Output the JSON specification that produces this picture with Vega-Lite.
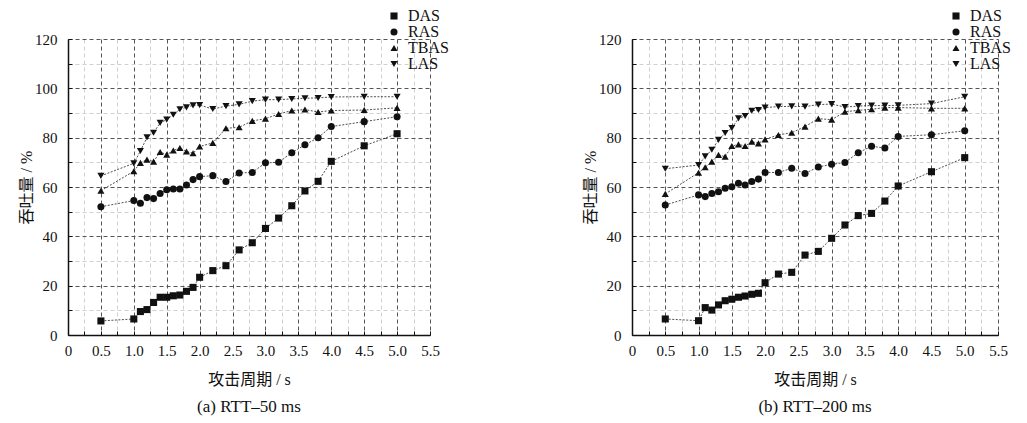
{
  "$schema": "https://vega.github.io/schema/vega-lite/v6.json",
  "background": "white",
  "padding": {"left": 18, "top": 8, "right": 2, "bottom": 2},
  "config": {
    "view": {"stroke": null},
    "font": "Liberation Serif",
    "axis": {
      "labelFont": "Liberation Serif",
      "labelFontSize": 15,
      "labelColor": "#111",
      "titleFont": "Liberation Serif, Noto Sans CJK SC",
      "titleFontSize": 16,
      "titleFontWeight": "normal",
      "titleColor": "#111",
      "domainColor": "#111",
      "domainWidth": 1.5,
      "tickColor": "#111",
      "tickSize": -4,
      "gridDash": [4, 3],
      "gridWidth": 1
    },
    "legend": {
      "labelFont": "Liberation Serif",
      "labelFontSize": 16,
      "labelColor": "#111",
      "symbolFillColor": "#111",
      "symbolStrokeColor": "#111",
      "symbolSize": 50,
      "rowPadding": -4,
      "padding": 0,
      "labelOffset": 6
    }
  },
  "data": {"values": [
    {"p":"a","s":"DAS","x":0.5,"y":5.7},{"p":"a","s":"DAS","x":1.0,"y":6.5},{"p":"a","s":"DAS","x":1.1,"y":9.5},{"p":"a","s":"DAS","x":1.2,"y":10.3},{"p":"a","s":"DAS","x":1.3,"y":13.2},{"p":"a","s":"DAS","x":1.4,"y":15.3},{"p":"a","s":"DAS","x":1.5,"y":15.3},{"p":"a","s":"DAS","x":1.6,"y":15.9},{"p":"a","s":"DAS","x":1.7,"y":16.2},{"p":"a","s":"DAS","x":1.8,"y":17.7},{"p":"a","s":"DAS","x":1.9,"y":19.3},{"p":"a","s":"DAS","x":2.0,"y":23.4},{"p":"a","s":"DAS","x":2.2,"y":26.1},{"p":"a","s":"DAS","x":2.4,"y":28.1},{"p":"a","s":"DAS","x":2.6,"y":34.5},{"p":"a","s":"DAS","x":2.8,"y":37.4},{"p":"a","s":"DAS","x":3.0,"y":43.2},{"p":"a","s":"DAS","x":3.2,"y":47.4},{"p":"a","s":"DAS","x":3.4,"y":52.4},{"p":"a","s":"DAS","x":3.6,"y":58.4},{"p":"a","s":"DAS","x":3.8,"y":62.3},{"p":"a","s":"DAS","x":4.0,"y":70.4},{"p":"a","s":"DAS","x":4.5,"y":76.7},{"p":"a","s":"DAS","x":5.0,"y":81.6},
    {"p":"a","s":"RAS","x":0.5,"y":52.0},{"p":"a","s":"RAS","x":1.0,"y":54.5},{"p":"a","s":"RAS","x":1.1,"y":53.4},{"p":"a","s":"RAS","x":1.2,"y":55.7},{"p":"a","s":"RAS","x":1.3,"y":55.3},{"p":"a","s":"RAS","x":1.4,"y":57.4},{"p":"a","s":"RAS","x":1.5,"y":58.9},{"p":"a","s":"RAS","x":1.6,"y":59.2},{"p":"a","s":"RAS","x":1.7,"y":59.2},{"p":"a","s":"RAS","x":1.8,"y":60.8},{"p":"a","s":"RAS","x":1.9,"y":63.0},{"p":"a","s":"RAS","x":2.0,"y":64.2},{"p":"a","s":"RAS","x":2.2,"y":64.6},{"p":"a","s":"RAS","x":2.4,"y":62.2},{"p":"a","s":"RAS","x":2.6,"y":65.7},{"p":"a","s":"RAS","x":2.8,"y":65.9},{"p":"a","s":"RAS","x":3.0,"y":69.8},{"p":"a","s":"RAS","x":3.2,"y":70.0},{"p":"a","s":"RAS","x":3.4,"y":73.9},{"p":"a","s":"RAS","x":3.6,"y":77.1},{"p":"a","s":"RAS","x":3.8,"y":80.0},{"p":"a","s":"RAS","x":4.0,"y":84.5},{"p":"a","s":"RAS","x":4.5,"y":86.5},{"p":"a","s":"RAS","x":5.0,"y":88.5},
    {"p":"a","s":"TBAS","x":0.5,"y":58.5},{"p":"a","s":"TBAS","x":1.0,"y":66.4},{"p":"a","s":"TBAS","x":1.1,"y":69.8},{"p":"a","s":"TBAS","x":1.2,"y":71.1},{"p":"a","s":"TBAS","x":1.3,"y":70.3},{"p":"a","s":"TBAS","x":1.4,"y":74.2},{"p":"a","s":"TBAS","x":1.5,"y":73.1},{"p":"a","s":"TBAS","x":1.6,"y":74.8},{"p":"a","s":"TBAS","x":1.7,"y":75.8},{"p":"a","s":"TBAS","x":1.8,"y":74.4},{"p":"a","s":"TBAS","x":1.9,"y":73.7},{"p":"a","s":"TBAS","x":2.0,"y":76.4},{"p":"a","s":"TBAS","x":2.2,"y":77.9},{"p":"a","s":"TBAS","x":2.4,"y":83.8},{"p":"a","s":"TBAS","x":2.6,"y":84.2},{"p":"a","s":"TBAS","x":2.8,"y":86.8},{"p":"a","s":"TBAS","x":3.0,"y":87.7},{"p":"a","s":"TBAS","x":3.2,"y":89.6},{"p":"a","s":"TBAS","x":3.4,"y":91.0},{"p":"a","s":"TBAS","x":3.6,"y":91.4},{"p":"a","s":"TBAS","x":3.8,"y":90.4},{"p":"a","s":"TBAS","x":4.0,"y":91.0},{"p":"a","s":"TBAS","x":4.5,"y":91.2},{"p":"a","s":"TBAS","x":5.0,"y":92.1},
    {"p":"a","s":"LAS","x":0.5,"y":64.5},{"p":"a","s":"LAS","x":1.0,"y":69.6},{"p":"a","s":"LAS","x":1.1,"y":74.6},{"p":"a","s":"LAS","x":1.2,"y":80.1},{"p":"a","s":"LAS","x":1.3,"y":82.0},{"p":"a","s":"LAS","x":1.4,"y":86.0},{"p":"a","s":"LAS","x":1.5,"y":87.3},{"p":"a","s":"LAS","x":1.6,"y":89.3},{"p":"a","s":"LAS","x":1.7,"y":91.5},{"p":"a","s":"LAS","x":1.8,"y":92.3},{"p":"a","s":"LAS","x":1.9,"y":93.1},{"p":"a","s":"LAS","x":2.0,"y":93.2},{"p":"a","s":"LAS","x":2.2,"y":91.6},{"p":"a","s":"LAS","x":2.4,"y":92.8},{"p":"a","s":"LAS","x":2.6,"y":93.5},{"p":"a","s":"LAS","x":2.8,"y":94.8},{"p":"a","s":"LAS","x":3.0,"y":95.4},{"p":"a","s":"LAS","x":3.2,"y":95.4},{"p":"a","s":"LAS","x":3.4,"y":95.7},{"p":"a","s":"LAS","x":3.6,"y":96.0},{"p":"a","s":"LAS","x":3.8,"y":96.1},{"p":"a","s":"LAS","x":4.0,"y":96.5},{"p":"a","s":"LAS","x":4.5,"y":96.6},{"p":"a","s":"LAS","x":5.0,"y":96.6},
    {"p":"b","s":"DAS","x":0.5,"y":6.5},{"p":"b","s":"DAS","x":1.0,"y":5.8},{"p":"b","s":"DAS","x":1.1,"y":11.1},{"p":"b","s":"DAS","x":1.2,"y":10.1},{"p":"b","s":"DAS","x":1.3,"y":12.2},{"p":"b","s":"DAS","x":1.4,"y":13.9},{"p":"b","s":"DAS","x":1.5,"y":14.5},{"p":"b","s":"DAS","x":1.6,"y":15.3},{"p":"b","s":"DAS","x":1.7,"y":15.8},{"p":"b","s":"DAS","x":1.8,"y":16.5},{"p":"b","s":"DAS","x":1.9,"y":16.9},{"p":"b","s":"DAS","x":2.0,"y":21.2},{"p":"b","s":"DAS","x":2.2,"y":24.7},{"p":"b","s":"DAS","x":2.4,"y":25.4},{"p":"b","s":"DAS","x":2.6,"y":32.4},{"p":"b","s":"DAS","x":2.8,"y":33.9},{"p":"b","s":"DAS","x":3.0,"y":39.2},{"p":"b","s":"DAS","x":3.2,"y":44.6},{"p":"b","s":"DAS","x":3.4,"y":48.4},{"p":"b","s":"DAS","x":3.6,"y":49.3},{"p":"b","s":"DAS","x":3.8,"y":54.3},{"p":"b","s":"DAS","x":4.0,"y":60.4},{"p":"b","s":"DAS","x":4.5,"y":66.2},{"p":"b","s":"DAS","x":5.0,"y":71.9},
    {"p":"b","s":"RAS","x":0.5,"y":52.7},{"p":"b","s":"RAS","x":1.0,"y":56.8},{"p":"b","s":"RAS","x":1.1,"y":56.1},{"p":"b","s":"RAS","x":1.2,"y":57.4},{"p":"b","s":"RAS","x":1.3,"y":58.1},{"p":"b","s":"RAS","x":1.4,"y":59.5},{"p":"b","s":"RAS","x":1.5,"y":60.1},{"p":"b","s":"RAS","x":1.6,"y":61.5},{"p":"b","s":"RAS","x":1.7,"y":60.8},{"p":"b","s":"RAS","x":1.8,"y":62.2},{"p":"b","s":"RAS","x":1.9,"y":63.2},{"p":"b","s":"RAS","x":2.0,"y":65.9},{"p":"b","s":"RAS","x":2.2,"y":65.9},{"p":"b","s":"RAS","x":2.4,"y":67.6},{"p":"b","s":"RAS","x":2.6,"y":65.5},{"p":"b","s":"RAS","x":2.8,"y":68.1},{"p":"b","s":"RAS","x":3.0,"y":69.2},{"p":"b","s":"RAS","x":3.2,"y":69.9},{"p":"b","s":"RAS","x":3.4,"y":73.9},{"p":"b","s":"RAS","x":3.6,"y":76.5},{"p":"b","s":"RAS","x":3.8,"y":75.8},{"p":"b","s":"RAS","x":4.0,"y":80.5},{"p":"b","s":"RAS","x":4.5,"y":81.2},{"p":"b","s":"RAS","x":5.0,"y":82.8},
    {"p":"b","s":"TBAS","x":0.5,"y":57.2},{"p":"b","s":"TBAS","x":1.0,"y":65.8},{"p":"b","s":"TBAS","x":1.1,"y":68.0},{"p":"b","s":"TBAS","x":1.2,"y":70.3},{"p":"b","s":"TBAS","x":1.3,"y":73.0},{"p":"b","s":"TBAS","x":1.4,"y":72.3},{"p":"b","s":"TBAS","x":1.5,"y":76.6},{"p":"b","s":"TBAS","x":1.6,"y":77.3},{"p":"b","s":"TBAS","x":1.7,"y":76.6},{"p":"b","s":"TBAS","x":1.8,"y":78.4},{"p":"b","s":"TBAS","x":1.9,"y":77.7},{"p":"b","s":"TBAS","x":2.0,"y":79.3},{"p":"b","s":"TBAS","x":2.2,"y":81.1},{"p":"b","s":"TBAS","x":2.4,"y":82.0},{"p":"b","s":"TBAS","x":2.6,"y":84.5},{"p":"b","s":"TBAS","x":2.8,"y":87.7},{"p":"b","s":"TBAS","x":3.0,"y":87.3},{"p":"b","s":"TBAS","x":3.2,"y":90.5},{"p":"b","s":"TBAS","x":3.4,"y":91.1},{"p":"b","s":"TBAS","x":3.6,"y":91.5},{"p":"b","s":"TBAS","x":3.8,"y":92.2},{"p":"b","s":"TBAS","x":4.0,"y":92.2},{"p":"b","s":"TBAS","x":4.5,"y":91.9},{"p":"b","s":"TBAS","x":5.0,"y":91.9},
    {"p":"b","s":"LAS","x":0.5,"y":67.4},{"p":"b","s":"LAS","x":1.0,"y":68.9},{"p":"b","s":"LAS","x":1.1,"y":72.4},{"p":"b","s":"LAS","x":1.2,"y":75.1},{"p":"b","s":"LAS","x":1.3,"y":79.1},{"p":"b","s":"LAS","x":1.4,"y":81.9},{"p":"b","s":"LAS","x":1.5,"y":83.9},{"p":"b","s":"LAS","x":1.6,"y":87.8},{"p":"b","s":"LAS","x":1.7,"y":88.8},{"p":"b","s":"LAS","x":1.8,"y":90.9},{"p":"b","s":"LAS","x":1.9,"y":91.2},{"p":"b","s":"LAS","x":2.0,"y":92.2},{"p":"b","s":"LAS","x":2.2,"y":92.6},{"p":"b","s":"LAS","x":2.4,"y":92.7},{"p":"b","s":"LAS","x":2.6,"y":92.6},{"p":"b","s":"LAS","x":2.8,"y":93.4},{"p":"b","s":"LAS","x":3.0,"y":93.6},{"p":"b","s":"LAS","x":3.2,"y":92.4},{"p":"b","s":"LAS","x":3.4,"y":92.8},{"p":"b","s":"LAS","x":3.6,"y":93.0},{"p":"b","s":"LAS","x":3.8,"y":93.0},{"p":"b","s":"LAS","x":4.0,"y":93.1},{"p":"b","s":"LAS","x":4.5,"y":93.8},{"p":"b","s":"LAS","x":5.0,"y":96.6}
  ]},
  "hconcat": [
    {
      "width": 362,
      "height": 296,
      "title": {"text": "(a) RTT–50 ms", "orient": "bottom", "offset": 12, "fontSize": 17, "font": "Liberation Serif", "fontWeight": "normal", "color": "#111"},
      "transform": [{"filter": "datum.p === 'a'"}],
      "encoding": {
        "x": {"field": "x", "type": "quantitative", "scale": {"domain": [0, 5.5], "nice": false},
          "axis": {"title": "攻击周期 / s", "values": [0,0.25,0.5,0.75,1,1.25,1.5,1.75,2,2.25,2.5,2.75,3,3.25,3.5,3.75,4,4.25,4.5,4.75,5,5.25,5.5],
            "labelExpr": "datum.value % 0.5 === 0 ? (datum.value === 0 ? '0' : format(datum.value, '.1f')) : ''",
            "gridColor": {"condition": {"test": "datum.value % 0.5 === 0", "value": "#555"}, "value": "#d0d0d0"},
            "labelFlush": false, "labelOverlap": false, "labelPadding": 12, "titlePadding": 13}},
        "y": {"field": "y", "type": "quantitative", "scale": {"domain": [0, 120], "nice": false},
          "axis": {"title": "吞吐量 / %", "values": [0,10,20,30,40,50,60,70,80,90,100,110,120],
            "labelExpr": "datum.value % 20 === 0 ? datum.label : ''",
            "gridColor": {"condition": {"test": "datum.value % 20 === 0", "value": "#555"}, "value": "#d0d0d0"},
            "labelFlush": false, "labelOverlap": false, "labelPadding": 15, "titlePadding": 0}}
      },
      "layer": [
        {
          "mark": {"type": "line", "color": "#222", "strokeWidth": 0.8, "strokeDash": [2, 1.5]},
          "encoding": {"detail": {"field": "s"}}
        },
        {
          "mark": {"type": "point", "filled": true, "color": "#111", "opacity": 1, "size": 50},
          "encoding": {
            "shape": {"field": "s", "type": "nominal", "scale": {"domain": ["DAS","RAS","TBAS","LAS"], "range": ["square","circle","triangle-up","triangle-down"]},
              "legend": {"title": null, "orient": "none", "legendX": 318, "legendY": -31}}
          }
        }
      ]
    },
    {
      "width": 366,
      "height": 296,
      "title": {"text": "(b) RTT–200 ms", "orient": "bottom", "offset": 12, "fontSize": 17, "font": "Liberation Serif", "fontWeight": "normal", "color": "#111"},
      "transform": [{"filter": "datum.p === 'b'"}],
      "encoding": {
        "x": {"field": "x", "type": "quantitative", "scale": {"domain": [0, 5.5], "nice": false},
          "axis": {"title": "攻击周期 / s", "values": [0,0.25,0.5,0.75,1,1.25,1.5,1.75,2,2.25,2.5,2.75,3,3.25,3.5,3.75,4,4.25,4.5,4.75,5,5.25,5.5],
            "labelExpr": "datum.value % 0.5 === 0 ? (datum.value === 0 ? '0' : format(datum.value, '.1f')) : ''",
            "gridColor": {"condition": {"test": "datum.value % 0.5 === 0", "value": "#555"}, "value": "#d0d0d0"},
            "labelFlush": false, "labelOverlap": false, "labelPadding": 12, "titlePadding": 13}},
        "y": {"field": "y", "type": "quantitative", "scale": {"domain": [0, 120], "nice": false},
          "axis": {"title": "吞吐量 / %", "values": [0,10,20,30,40,50,60,70,80,90,100,110,120],
            "labelExpr": "datum.value % 20 === 0 ? datum.label : ''",
            "gridColor": {"condition": {"test": "datum.value % 20 === 0", "value": "#555"}, "value": "#d0d0d0"},
            "labelFlush": false, "labelOverlap": false, "labelPadding": 15, "titlePadding": 0}}
      },
      "layer": [
        {
          "mark": {"type": "line", "color": "#222", "strokeWidth": 0.8, "strokeDash": [2, 1.5]},
          "encoding": {"detail": {"field": "s"}}
        },
        {
          "mark": {"type": "point", "filled": true, "color": "#111", "opacity": 1, "size": 50},
          "encoding": {
            "shape": {"field": "s", "type": "nominal", "scale": {"domain": ["DAS","RAS","TBAS","LAS"], "range": ["square","circle","triangle-up","triangle-down"]},
              "legend": {"title": null, "orient": "none", "legendX": 316, "legendY": -31}}
          }
        }
      ]
    }
  ],
  "spacing": 133,
  "resolve": {"scale": {"shape": "independent"}, "legend": {"shape": "independent"}}
}
